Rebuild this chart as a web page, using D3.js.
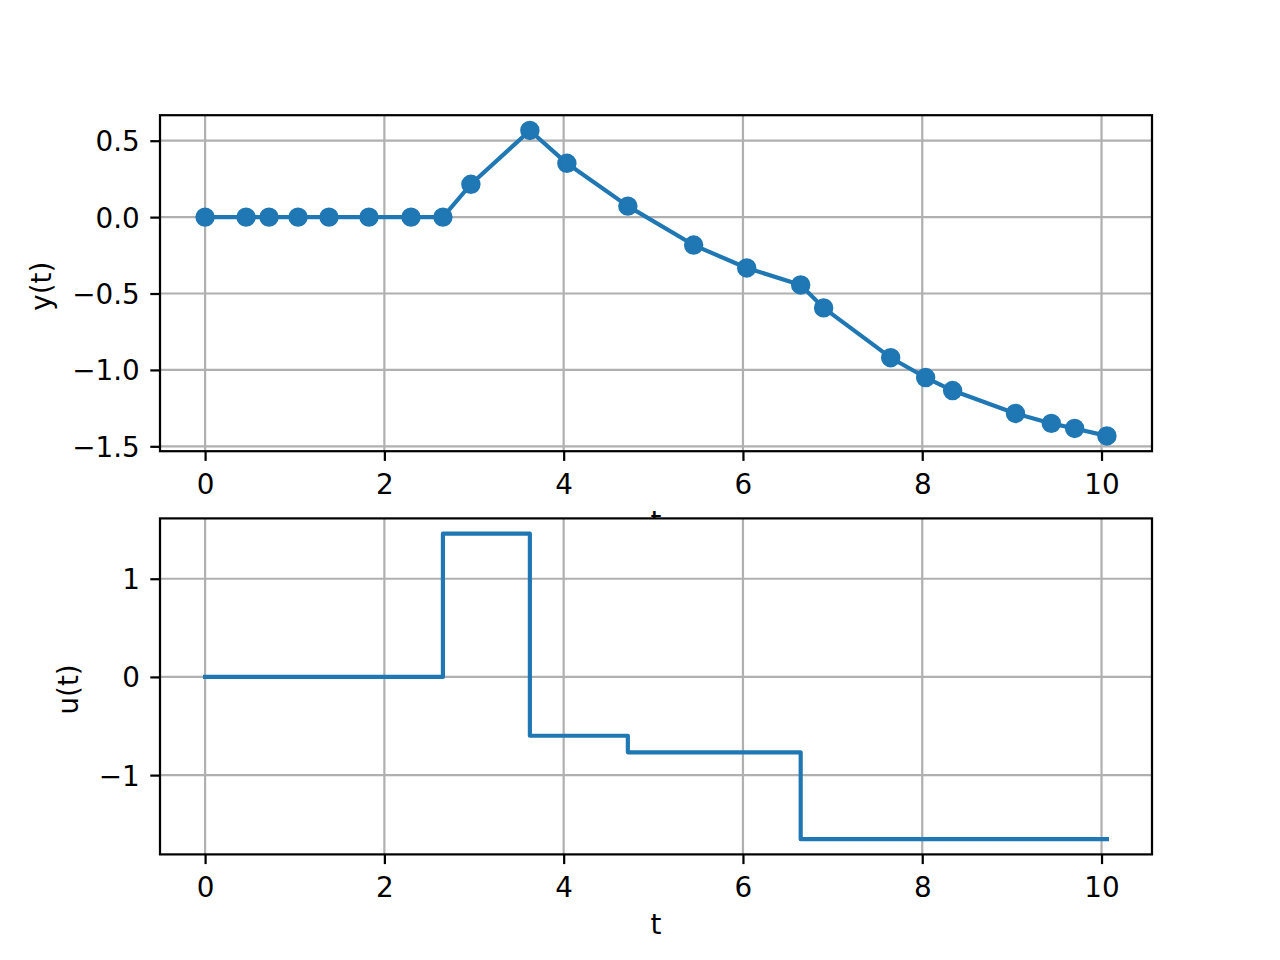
<!DOCTYPE html>
<html>
<head>
<meta charset="utf-8">
<script src="https://cdn.jsdelivr.net/npm/d3@7"></script>
<style>
  body { margin: 0; background: #fff; }
  svg text { font-family: "DejaVu Sans", sans-serif; }
</style>
</head>
<body>
<div id="chart"></div>
<script>
// sampled output y(t)
const tSamples = [0, 0.457, 0.713, 1.037, 1.382, 1.828, 2.297, 2.653, 2.965, 3.623, 4.036, 4.716,
  5.45, 6.042, 6.644, 6.90, 7.648, 8.038, 8.339, 9.04, 9.44, 9.70, 10.06];
const ySamples = [0, 0, 0, 0, 0, 0, 0, 0, 0.215, 0.567, 0.352, 0.072,
  -0.183, -0.333, -0.444, -0.594, -0.920, -1.050, -1.135, -1.285, -1.350, -1.383, -1.432];

// piecewise constant input u(t), held until the next change
const uTimes = [0, 2.653, 3.623, 4.716, 6.644, 10.06];
const uValues = [0, 1.459, -0.599, -0.768, -1.652, -1.652];

const xTicks = [0, 2, 4, 6, 8, 10];
const yTicksTop = [-1.5, -1.0, -0.5, 0.0, 0.5];
const yTicksBottom = [-1, 0, 1];

const width = 1280, height = 960;
const fontSize = 27.8;          // 10pt @ 200dpi
const lw = 2.22;                // 0.8pt
const tickLen = 9.7;
const blue = '#1f77b4';

const left = 160, right = 1152;
const panelH = 336;
const panels = [
  { top: 115.2, ylabel: 'y(t)', yTicks: yTicksTop, fmt: d3.format('.1f'),
    xs: tSamples, ys: ySamples, kind: 'markers' },
  { top: 518.4, ylabel: 'u(t)', yTicks: yTicksBottom, fmt: d3.format('d'),
    xs: uTimes, ys: uValues, kind: 'step' },
];

const svg = d3.select('#chart').append('svg')
  .attr('width', width)
  .attr('height', height);

svg.append('rect').attr('width', width).attr('height', height).attr('fill', '#fff');

// matplotlib style auto limits, 5% margin
function padded(ext) {
  const p = (ext[1] - ext[0]) * 0.05;
  return [ext[0] - p, ext[1] + p];
}

panels.forEach(cfg => {
  const g = svg.append('g').attr('transform', `translate(0, ${cfg.top})`);

  const x = d3.scaleLinear().domain(padded(d3.extent(cfg.xs))).range([left, right]);
  const y = d3.scaleLinear().domain(padded(d3.extent(cfg.ys))).range([panelH, 0]);

  // axes background (covers the upper panel's hidden xlabel)
  g.append('rect')
    .attr('x', left).attr('y', 0)
    .attr('width', right - left).attr('height', panelH)
    .attr('fill', '#fff');

  // grid
  g.append('g').selectAll('line.vgrid').data(xTicks).join('line')
    .attr('x1', d => x(d)).attr('x2', d => x(d))
    .attr('y1', 0).attr('y2', panelH)
    .attr('stroke', '#b0b0b0').attr('stroke-width', lw);
  g.append('g').selectAll('line.hgrid').data(cfg.yTicks).join('line')
    .attr('y1', d => y(d)).attr('y2', d => y(d))
    .attr('x1', left).attr('x2', right)
    .attr('stroke', '#b0b0b0').attr('stroke-width', lw);

  // data
  const pts = cfg.xs.map((t, i) => [t, cfg.ys[i]]);
  const line = d3.line().x(d => x(d[0])).y(d => y(d[1]));
  if (cfg.kind === 'step') line.curve(d3.curveStepAfter);

  g.append('path').datum(pts)
    .attr('d', line)
    .attr('fill', 'none').attr('stroke', blue)
    .attr('stroke-width', 4.17)
    .attr('stroke-linejoin', 'round')
    .attr('stroke-linecap', 'square');

  if (cfg.kind === 'markers') {
    g.append('g').selectAll('circle').data(pts).join('circle')
      .attr('cx', d => x(d[0])).attr('cy', d => y(d[1]))
      .attr('r', 8.33)
      .attr('fill', blue)
      .attr('stroke', blue).attr('stroke-width', 2.78);
  }

  // spines
  g.append('rect')
    .attr('x', left).attr('y', 0)
    .attr('width', right - left).attr('height', panelH)
    .attr('fill', 'none').attr('stroke', '#000').attr('stroke-width', lw);

  const xAxis = d3.axisBottom(x).tickValues(xTicks).tickFormat(d3.format('d'))
    .tickSizeInner(tickLen).tickSizeOuter(0).tickPadding(13);
  const yAxis = d3.axisLeft(y).tickValues(cfg.yTicks).tickFormat(cfg.fmt)
    .tickSizeInner(tickLen).tickSizeOuter(0).tickPadding(10.5);

  const gx = g.append('g').attr('transform', `translate(0, ${panelH})`).call(xAxis);
  const gy = g.append('g').attr('transform', `translate(${left}, 0)`).call(yAxis);

  [gx, gy].forEach(a => {
    a.select('.domain').remove();
    a.selectAll('.tick line').attr('stroke', '#000').attr('stroke-width', lw);
    a.selectAll('.tick text')
      .attr('fill', '#000')
      .style('font-size', fontSize + 'px')
      .style('font-family', '"DejaVu Sans", sans-serif');
  });
  gy.selectAll('.tick text').attr('dy', '0.36em');

  // x label
  g.append('text')
    .attr('x', (left + right) / 2)
    .attr('y', panelH + 79.6)
    .attr('text-anchor', 'middle')
    .style('font-size', fontSize + 'px')
    .text('t');

  // y label, placed left of the widest tick label
  const minX = d3.min(gy.selectAll('.tick text').nodes(), n => n.getBBox().x) + left;
  g.append('text')
    .attr('transform', `translate(${minX - 21}, ${panelH / 2 + 3}) rotate(-90)`)
    .attr('text-anchor', 'middle')
    .style('font-size', fontSize + 'px')
    .text(cfg.ylabel);
});
</script>
</body>
</html>
